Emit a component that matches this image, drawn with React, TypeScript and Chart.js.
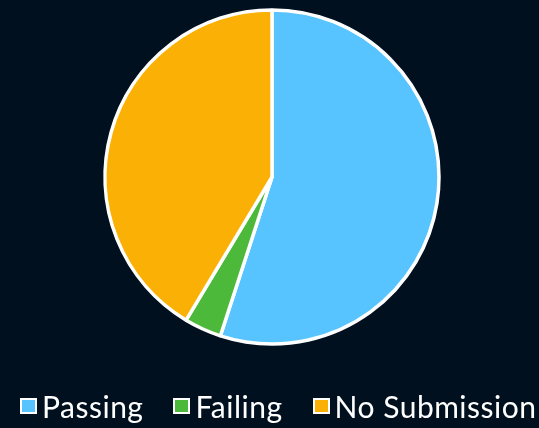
import React, { useEffect, useRef } from "react";
import { Chart, registerables } from "chart.js";

Chart.register(...registerables);

const categories = ["Passing", "Failing", "No Submission"];
const values = [55, 3.6, 41.4];
const colors = ["#57C4FF", "#4DB93A", "#FAB005"];

export default function App() {
  const ref = useRef<HTMLCanvasElement>(null);
  useEffect(() => {
    if (!ref.current) return;
    const chart = new Chart(ref.current, {
      type: "pie",
      data: {
        labels: categories,
        datasets: [
          {
            data: values,
            backgroundColor: colors,
            borderColor: "#FFFFFF",
            borderWidth: 3.5,
            radius: 167,
          },
        ],
      },
      options: {
        responsive: false,
        animation: false,
        layout: { padding: { left: 5, top: 0, bottom: 74 } },
        plugins: {
          tooltip: { enabled: false },
          legend: { display: false },
        },
      },
    });
    return () => chart.destroy();
  }, []);
  return (
    <div
      style={{
        position: "fixed",
        left: 0,
        top: 0,
        width: 539,
        height: 428,
        background: "#00101F",
        overflow: "hidden",
      }}
    >
      <canvas ref={ref} width={539} height={428} style={{ position: "absolute", left: 0, top: 0 }} />
      <div
        style={{
          position: "absolute",
          left: 20,
          top: 391,
          display: "flex",
          gap: 30,
          fontFamily: "Lato",
          fontSize: 30,
          lineHeight: "30px",
          letterSpacing: 0.5,
          color: "#FFFFFF",
          whiteSpace: "nowrap",
        }}
      >
        {categories.map((c, i) => (
          <div key={c} style={{ display: "flex", alignItems: "center", gap: 5 }}>
            <span
              style={{
                display: "inline-block",
                width: 17,
                height: 16,
                boxSizing: "border-box",
                border: "2px solid #FFFFFF",
                background: colors[i],
              }}
            />
            <span>{c}</span>
          </div>
        ))}
      </div>
    </div>
  );
}
